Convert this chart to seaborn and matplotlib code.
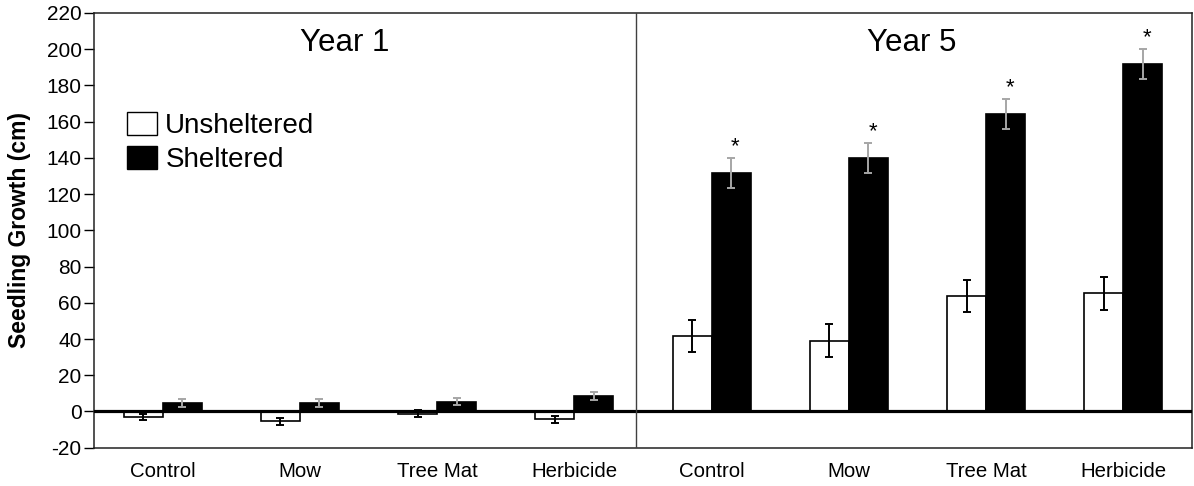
import numpy as np
import pandas as pd
import matplotlib
matplotlib.use("Agg")
import matplotlib.pyplot as plt
from matplotlib.patches import Patch
import seaborn as sns

# ---------------- data ----------------
categories = ["Control", "Mow", "Tree Mat", "Herbicide"]
years = ["Year 1", "Year 5"]
series = ["Unsheltered", "Sheltered"]

unsheltered_y1 = [-3.0, -5.5, -1.3, -4.3]
unsheltered_y1_err = [1.8, 1.8, 2.0, 2.0]
sheltered_y1 = [4.7, 4.7, 5.5, 8.6]
sheltered_y1_err = [2.0, 2.0, 2.0, 2.0]

unsheltered_y5 = [41.6, 39.1, 63.7, 65.2]
unsheltered_y5_err = [8.8, 9.2, 8.7, 9.2]
sheltered_y5 = [131.7, 140.0, 164.3, 191.6]
sheltered_y5_err = [8.3, 8.4, 8.1, 8.3]

significance_y1 = ["", "", "", ""]
significance_y5 = ["*", "*", "*", "*"]

y_ticks = list(range(-20, 221, 20))

# ---------------- frame ----------------
keys = [f"{y}|{c}" for y in years for c in categories]
tick_labels = categories + categories
unsh_vals = unsheltered_y1 + unsheltered_y5
unsh_errs = unsheltered_y1_err + unsheltered_y5_err
sh_vals = sheltered_y1 + sheltered_y5
sh_errs = sheltered_y1_err + sheltered_y5_err
stars = significance_y1 + significance_y5

df = pd.DataFrame({
    "key": keys * 2,
    "value": unsh_vals + sh_vals,
    "shelter": ["Unsheltered"] * len(keys) + ["Sheltered"] * len(keys),
})

sns.set_theme(style="white")
plt.rcParams["font.family"] = ["Liberation Sans", "DejaVu Sans"]
plt.rcParams["text.color"] = "black"
plt.rcParams["axes.labelcolor"] = "black"
plt.rcParams["xtick.color"] = "black"
plt.rcParams["ytick.color"] = "black"

fig = plt.figure(figsize=(11.94, 4.86), dpi=100)
ax = fig.add_axes([94 / 1194, 1 - 447.7 / 486, (1192 - 94) / 1194, (447.7 - 13) / 486])

sns.barplot(data=df, x="key", y="value", hue="shelter", order=keys,
            hue_order=series,
            palette={"Unsheltered": "white", "Sheltered": "black"},
            edgecolor="black", linewidth=1.2, width=0.57, errorbar=None,
            legend=False, ax=ax, zorder=2)

# error bars using bar centres from the seaborn containers
unsh_x = [b.get_x() + b.get_width() / 2 for b in ax.containers[0]]
sh_x = [b.get_x() + b.get_width() / 2 for b in ax.containers[1]]
ax.errorbar(unsh_x, unsh_vals, yerr=unsh_errs, fmt="none", ecolor="black",
            elinewidth=1.4, capsize=3, capthick=1.4, zorder=4)
ax.errorbar(sh_x, sh_vals, yerr=sh_errs, fmt="none", ecolor="#a6a6a6",
            elinewidth=1.4, capsize=3, capthick=1.4, zorder=4)

for x, v, e, s in zip(sh_x, sh_vals, sh_errs, stars):
    if s:
        ax.text(x + 0.03, v + e + 0.5, s, ha="center", va="bottom",
                fontsize=16, color="black", zorder=5)

ax.axhline(0, color="black", lw=2.3, zorder=3)
ax.axvline(3.45, color="#404040", lw=1.0, zorder=3)

ax.set_xlim(-0.5, len(keys) - 0.5)
ax.set_ylim(-20, 220)
ax.set_yticks(y_ticks)
ax.set_yticklabels([str(t) for t in y_ticks], fontsize=15, color="black")
ax.set_xticks(range(len(keys)))
ax.set_xticklabels(tick_labels, fontsize=14.7, color="black")
ax.tick_params(axis="y", left=True, length=7, width=1.0, direction="out",
               pad=2, colors="black")
ax.tick_params(axis="x", bottom=False, length=0, pad=10, colors="black")
ax.set_xlabel("")
ax.set_ylabel("Seedling Growth (cm)", fontsize=16.5, fontweight="bold",
              color="black")
ax.yaxis.set_label_coords(-0.0574, 0.5)

for sp in ax.spines.values():
    sp.set_visible(True)
    sp.set_color("#222222")
    sp.set_linewidth(1.1)

ax.text(0.228, 0.931, years[0], transform=ax.transAxes, ha="center",
        va="center", fontsize=22.5, color="black")
ax.text(0.745, 0.931, years[1], transform=ax.transAxes, ha="center",
        va="center", fontsize=22.5, color="black")

handles = [Patch(facecolor="white", edgecolor="black", linewidth=1.0),
           Patch(facecolor="black", edgecolor="black", linewidth=1.0)]
leg = ax.legend(handles, series, loc="upper left", bbox_to_anchor=(0.030, 0.773),
                frameon=False, fontsize=20, handlelength=1.08, handleheight=0.9,
                handletextpad=0.3, labelspacing=0.27, borderpad=0,
                borderaxespad=0)
for t in leg.get_texts():
    t.set_color("black")

ax.grid(False)
fig.savefig("out.png", dpi=100)
